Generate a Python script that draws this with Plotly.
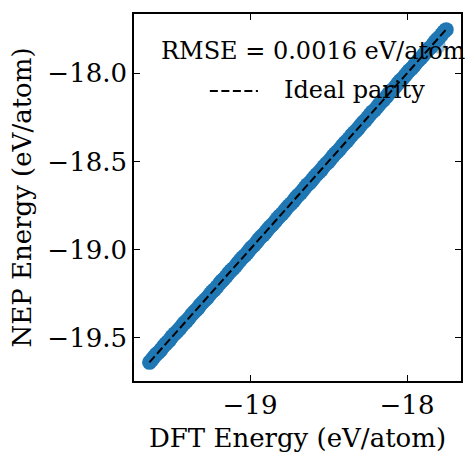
import plotly.graph_objects as go

dft_energy = [-19.640, -19.612, -19.585, -19.551, -19.523, -19.497, -19.462, -19.431, -19.405, -19.372,
              -19.344, -19.318, -19.285, -19.254, -19.226, -19.193, -19.168, -19.137, -19.106, -19.079,
              -19.047, -19.018, -18.990, -18.958, -18.931, -18.899, -18.872, -18.841, -18.812, -18.780,
              -18.753, -18.722, -18.694, -18.663, -18.634, -18.604, -18.575, -18.546, -18.514, -18.487,
              -18.456, -18.428, -18.397, -18.369, -18.338, -18.309, -18.279, -18.250, -18.221, -18.190,
              -18.162, -18.131, -18.103, -18.072, -18.044, -18.013, -17.985, -17.954, -17.926, -17.895,
              -17.867, -17.836, -17.808, -17.779, -17.750,
              -19.626, -19.598, -19.568, -19.537, -19.510, -19.479, -19.446, -19.418, -19.389, -19.358,
              -19.331, -19.301, -19.270, -19.240, -19.209, -19.181, -19.152, -19.121, -19.092, -19.063,
              -19.032, -19.004, -18.974, -18.945, -18.915, -18.886, -18.856, -18.826, -18.796, -18.767,
              -18.737, -18.708, -18.678, -18.649, -18.619, -18.590, -18.560, -18.530, -18.501, -18.471,
              -18.442, -18.412, -18.383, -18.353, -18.324, -18.294, -18.265, -18.235, -18.206, -18.176,
              -18.147, -18.117, -18.088, -18.058, -18.029, -17.999, -17.970, -17.940, -17.911, -17.881,
              -17.852, -17.822, -17.794, -17.765]
nep_energy = [-19.641, -19.611, -19.587, -19.550, -19.524, -19.495, -19.463, -19.430, -19.407, -19.371,
              -19.345, -19.316, -19.286, -19.253, -19.228, -19.192, -19.169, -19.136, -19.108, -19.078,
              -19.046, -19.020, -18.989, -18.959, -18.929, -18.900, -18.871, -18.843, -18.811, -18.781,
              -18.752, -18.724, -18.693, -18.664, -18.632, -18.605, -18.574, -18.548, -18.513, -18.488,
              -18.455, -18.430, -18.396, -18.370, -18.337, -18.311, -18.278, -18.251, -18.219, -18.191,
              -18.161, -18.133, -18.102, -18.073, -18.042, -18.014, -17.984, -17.956, -17.925, -17.896,
              -17.866, -17.838, -17.807, -17.780, -17.752,
              -19.627, -19.596, -19.570, -19.536, -19.512, -19.478, -19.448, -19.417, -19.391, -19.357,
              -19.333, -19.300, -19.272, -19.239, -19.211, -19.180, -19.154, -19.120, -19.094, -19.062,
              -19.034, -19.003, -18.976, -18.944, -18.917, -18.885, -18.858, -18.825, -18.798, -18.766,
              -18.739, -18.707, -18.680, -18.648, -18.621, -18.589, -18.562, -18.529, -18.503, -18.470,
              -18.444, -18.411, -18.385, -18.352, -18.326, -18.293, -18.267, -18.234, -18.208, -18.175,
              -18.149, -18.116, -18.090, -18.057, -18.031, -17.998, -17.972, -17.939, -17.913, -17.880,
              -17.854, -17.821, -17.796, -17.764]
outlier_dft = [-17.800]
outlier_nep = [-17.845]

rmse_text = "RMSE = 0.0016 eV/atom"
legend_label = "Ideal parity"
x_label = "DFT Energy (eV/atom)"
y_label = "NEP Energy (eV/atom)"
x_ticks = [-19, -18]
y_ticks = [-19.5, -19.0, -18.5, -18.0]

blue = "#1f77b4"
font = "DejaVu Serif"
fs = 26
fs_leg = 24
dash = "8px,3.5px"

lo = min(dft_energy + nep_energy)
hi = max(dft_energy + nep_energy)

fig = go.Figure()
fig.add_trace(go.Scatter(x=outlier_dft, y=outlier_nep, mode="markers",
                         marker=dict(size=15, color=blue, opacity=0.45, line=dict(width=0)),
                         showlegend=False))
fig.add_trace(go.Scatter(x=dft_energy, y=nep_energy, mode="markers",
                         marker=dict(size=15, color=blue, opacity=1.0, line=dict(width=0)),
                         showlegend=False))
fig.add_trace(go.Scatter(x=[lo, hi], y=[lo, hi], mode="lines", name=legend_label,
                         line=dict(color="black", width=2, dash=dash), showlegend=False))

axis_common = dict(showline=True, linecolor="black", linewidth=1.5, mirror="ticks",
                   ticks="inside", ticklen=6, tickwidth=1, tickcolor="black",
                   showgrid=False, zeroline=False,
                   tickfont=dict(family=font, size=fs, color="black"))

fig.update_xaxes(range=[-19.739, -17.656], tickvals=x_ticks, tickformat="d",
                 title=dict(text=x_label, font=dict(family=font, size=fs, color="black"), standoff=10),
                 **axis_common)
fig.update_yaxes(range=[-19.747, -17.663], tickvals=y_ticks, tickformat=".1f",
                 title=dict(text=y_label, font=dict(family=font, size=fs, color="black"), standoff=8),
                 **axis_common)

# legend title (RMSE) and legend entry
fig.add_annotation(text=rmse_text, xref="paper", yref="paper", x=0.548, y=0.900,
                   xanchor="center", yanchor="middle", showarrow=False,
                   font=dict(family=font, size=fs_leg, color="black"))
fig.add_shape(type="line", xref="paper", yref="paper", x0=0.232, x1=0.379, y0=0.790, y1=0.790,
              line=dict(color="black", width=2, dash=dash))
fig.add_annotation(text=legend_label, xref="paper", yref="paper", x=0.453, y=0.792,
                   xanchor="left", yanchor="middle", showarrow=False,
                   font=dict(family=font, size=fs_leg, color="black"))

fig.update_layout(
    width=475, height=460,
    margin=dict(l=134, r=14, t=12, b=77),
    paper_bgcolor="white", plot_bgcolor="white",
    showlegend=False,
)

fig.write_html("out.html")
